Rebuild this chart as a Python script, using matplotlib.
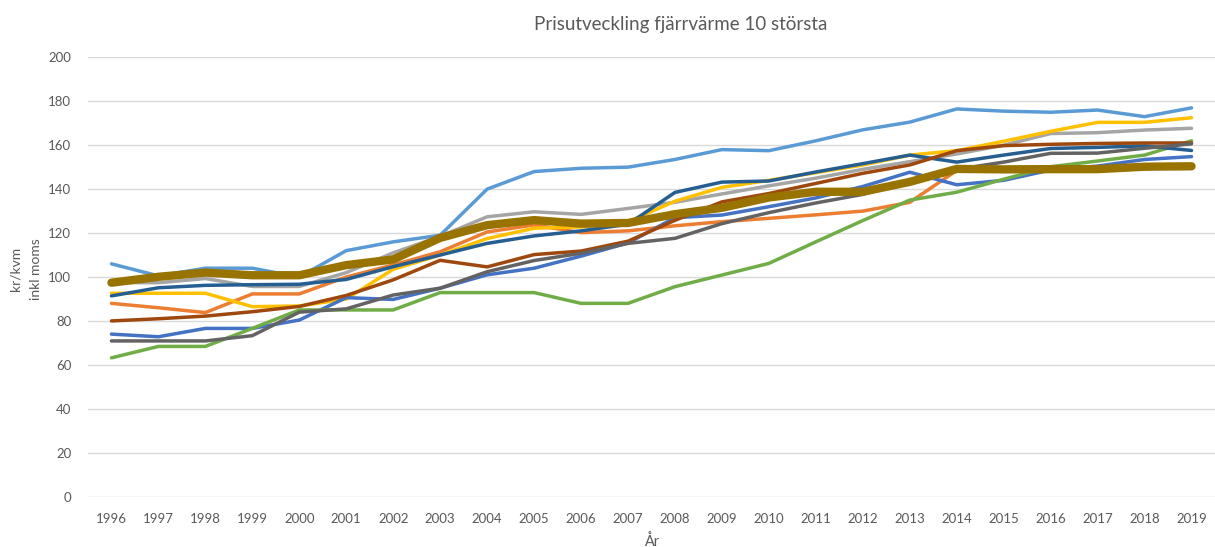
import matplotlib
matplotlib.use("Agg")
import matplotlib.pyplot as plt

years = list(range(1996, 2020))

# one list per company (values in kr/kvm inkl moms)
light_blue = [106, 100.5, 104, 104, 100, 112, 116, 119, 140, 148, 149.5, 150, 153.5, 158,
              157.5, 162, 167, 170.5, 176.5, 175.5, 175, 176, 173, 177]
orange = [88, 86, 83.8, 92.3, 92.3, 100, 105.5, 111.5, 120.5, 123.7, 120.2, 121, 123.3, 125.2,
          126.7, 128.3, 130, 134, 148.5, 149, 149, 149.3, 150, 150.5]
gray = [97.5, 97.4, 99.3, 95.7, 95.7, 102, 111, 118.5, 127.4, 129.7, 128.5, 131.2, 134, 137.8,
        141.5, 145, 149, 152.5, 156, 160, 165.3, 165.7, 166.9, 167.7]
yellow = [92.6, 92.6, 92.6, 86.5, 86.8, 90, 103.5, 110, 117.5, 122.2, 122.8, 125.2, 134.5, 140.8,
          144, 147.5, 151, 155.5, 157.5, 161.8, 166.3, 170.4, 170.4, 172.5]
blue = [74, 72.8, 76.6, 76.6, 80.4, 90.6, 89.8, 94.9, 101, 104, 109.5, 115.5, 127, 128.2,
        132, 136, 141.2, 147.7, 142, 144, 148.7, 150.5, 153.5, 154.8]
green = [63.2, 68.4, 68.4, 76.6, 85, 85, 85, 92.9, 92.9, 92.9, 88, 88, 95.6, 100.9,
         106.2, 116, 125.7, 135, 138.6, 144.5, 150.2, 152.8, 155.5, 162]
dark_blue = [91.4, 95.1, 96.2, 96.5, 96.7, 98.9, 104.7, 110, 115.3, 118.7, 121, 124, 138.5, 143.2,
             143.7, 147.8, 151.6, 155.5, 152.3, 155.5, 158.5, 159, 159.7, 157.6]
brown = [80, 81, 82.2, 84.2, 86.6, 91.6, 98.7, 107.6, 104.6, 110.2, 111.8, 116.3, 125.8, 134.2,
         138, 142.6, 147.2, 151, 157.5, 159.8, 160.4, 160.8, 161, 161]
dark_gray = [70.9, 70.9, 70.9, 73.3, 84, 85.5, 91.8, 94.9, 102.4, 107.5, 110.8, 115.3, 117.6, 124.3,
             129.3, 133.7, 137.6, 144.2, 149, 152.3, 156.3, 156.4, 158.6, 160.6]
olive = [97.4, 100.1, 102, 100.8, 100.8, 105.4, 108, 117.8, 123.6, 125.9, 124.3, 124.6, 128.6, 131.5,
         136.2, 138.8, 138.8, 143.3, 149.2, 149, 149.1, 149.1, 150.2, 150.4]

series = [light_blue, orange, gray, yellow, blue, green, dark_blue, brown, dark_gray, olive]
colors = ["#5B9BD5", "#ED7D31", "#A5A5A5", "#FFC000", "#4472C4", "#70AD47",
          "#255E91", "#9E480E", "#636363", "#997300"]
widths = [2.5] * 9 + [6.0]

txt = "#595959"
plt.rcParams["font.family"] = ["Lato", "DejaVu Sans"]

fig = plt.figure(figsize=(12.15, 5.47), dpi=100)
ax = fig.add_axes([0.0724, 0.092, 0.9276, 0.8032])

for vals, c, lw in zip(series, colors, widths):
    ax.plot(years, vals, color=c, linewidth=lw, solid_capstyle="round", solid_joinstyle="round")

ax.set_xlim(1995.5, 2019.5)
ax.set_ylim(0, 200)
ax.set_yticks(range(0, 201, 20))
ax.set_xticks(years)
ax.set_xticklabels([str(y) for y in years])
ax.grid(True, axis="y", color="#D9D9D9", linewidth=1.0)
ax.set_axisbelow(True)
for s in ax.spines.values():
    s.set_visible(False)
ax.tick_params(axis="both", length=0, labelsize=9.5, labelcolor=txt)
ax.tick_params(axis="y", pad=12)
ax.tick_params(axis="x", pad=12)

ax.set_xlabel("År", fontsize=10.5, color=txt, labelpad=6)
fig.text(0.021, 0.508, "kr/kvm\ninkl moms", rotation=90, ha="center", va="center",
         fontsize=10, color=txt, linespacing=1.9)
fig.text(0.56, 0.955, "Prisutveckling fjärrvärme 10 största", ha="center", va="center",
         fontsize=13.5, color=txt)

fig.savefig("out.png", dpi=100)
